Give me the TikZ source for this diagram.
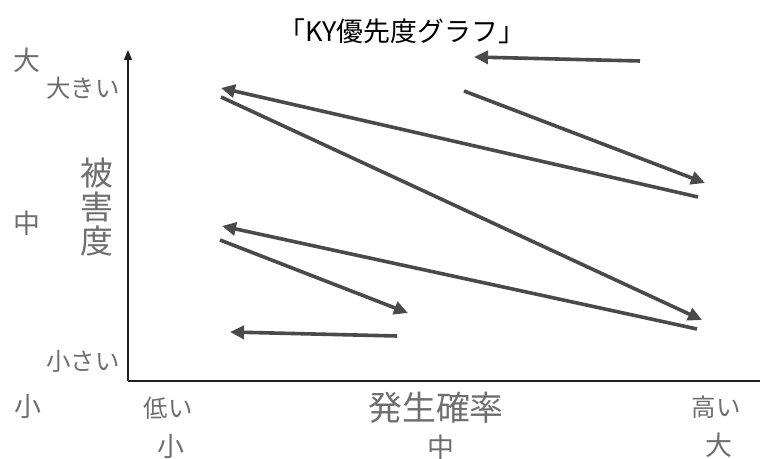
\documentclass[tikz,border=0pt]{standalone}
\usepackage{fontspec}
\setmainfont{Noto Sans CJK JP}
\usetikzlibrary{arrows.meta}
\definecolor{txtgray}{HTML}{6E6E6E}
\definecolor{arrgray}{HTML}{4A4A4A}
\definecolor{axisblack}{HTML}{231F20}
\begin{document}
\begin{tikzpicture}[x=1bp,y=-1bp,
  lbl/.style={text=txtgray, inner sep=0pt, font=\fontsize{24.5}{26}\selectfont},
  biglbl/.style={text=txtgray, inner sep=0pt, font=\fontsize{27}{29}\selectfont},
  axislbl/.style={text=txtgray, inner sep=0pt, font=\fontsize{34}{36}\selectfont},
  riskarrow/.style={draw=arrgray, line width=3.6bp, -{Triangle[length=14bp,width=13bp]}},
  axisline/.style={draw=axisblack, line width=1.3bp},
]
\useasboundingbox (0,0) rectangle (760,459);
% title
\node[inner sep=0pt, font=\fontsize{27}{29}\selectfont] (title) at (402,31) {「KY優先度グラフ」};
% axes
\coordinate (origin) at (128,381);
\coordinate (ytop) at (128,50);
\coordinate (xend) at (760,381);
\draw[axisline, -{Triangle[length=10bp,width=8bp]}] (origin) -- (ytop);
\draw[axisline] (origin) -- (xend);
% left labels
\node[biglbl] (ldai) at (27,60) {大};
\node[biglbl] (lchu) at (27,223) {中};
\node[biglbl] (lsho) at (28,406) {小};
\node[lbl] (ookii) at (83,88) {大きい};
\node[lbl] (chiisai) at (83,361) {小さい};
\node[text=txtgray, inner sep=0pt, align=center, font=\fontsize{33}{34.5}\selectfont] (higai) at (97,207) {被\\害\\度};
% bottom labels
\node[lbl] (hikui) at (168,408) {低い};
\node[axislbl] (hassei) at (436,408) {発生確率};
\node[lbl] (takai) at (716,407) {高い};
\node[biglbl] (bsho) at (171,446) {小};
\node[biglbl] (bchu) at (441,447) {中};
\node[biglbl] (bdai) at (719,445) {大};
% arrows
\coordinate (a1s) at (640,61);  \coordinate (a1e) at (474,57);
\coordinate (a2s) at (464,91);  \coordinate (a2e) at (705,183);
\coordinate (a3s) at (698,197); \coordinate (a3e) at (221,88);
\coordinate (a4s) at (221,97);  \coordinate (a4e) at (702,320);
\coordinate (a5s) at (697,329); \coordinate (a5e) at (222,226);
\coordinate (a6s) at (220,240); \coordinate (a6e) at (408,313);
\coordinate (a7s) at (397,336); \coordinate (a7e) at (230,332);
\draw[riskarrow] (a1s) -- (a1e);
\draw[riskarrow] (a2s) -- (a2e);
\draw[riskarrow] (a3s) -- (a3e);
\draw[riskarrow] (a4s) -- (a4e);
\draw[riskarrow] (a5s) -- (a5e);
\draw[riskarrow] (a6s) -- (a6e);
\draw[riskarrow] (a7s) -- (a7e);
\end{tikzpicture}
\end{document}
